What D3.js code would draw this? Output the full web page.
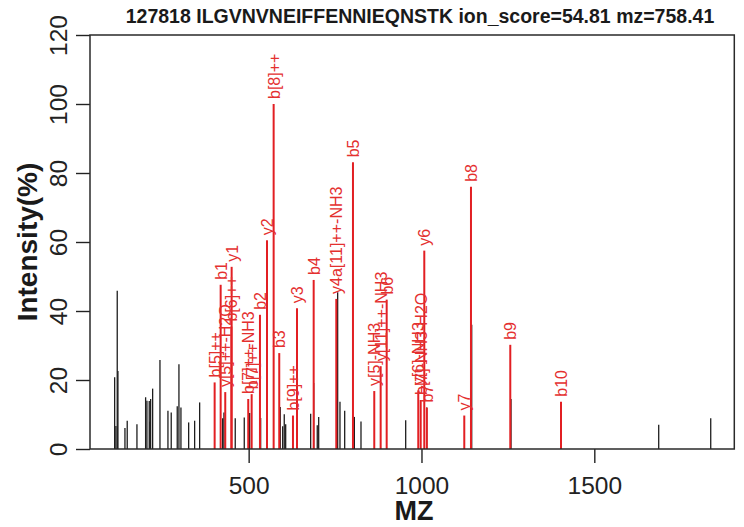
<!DOCTYPE html>
<html>
<head>
<meta charset="utf-8">
<script src="https://cdn.jsdelivr.net/npm/d3@7"></script>
<style>
  html, body { margin: 0; padding: 0; background: #ffffff; }
  svg { display: block; font-family: "Liberation Sans", Arial, Helvetica, sans-serif; }
</style>
</head>
<body>
<svg id="chart" width="744" height="527"></svg>
<script>
// ---------- data ----------
const titleText = "127818 ILGVNVNEIFFENNIEQNSTK ion_score=54.81 mz=758.41";
const xTicks = [500, 1000, 1500];
const yTicks = [0, 20, 40, 60, 80, 100, 120];

// unmatched peaks (black)
const blackMz = [112.3, 116.0, 119.8, 121.8, 142.1, 148.7, 176.8, 201.9, 205.7, 212.4, 214.4, 216.4, 222.2, 243.4,
  266.5, 276.0, 293.4, 298.3, 304.1, 326.4, 343.7, 358.2, 424.8, 428.5, 461.2, 487.3, 502.9, 534.7,
  591.4, 598.4, 603.0, 607.1, 679.4, 688.1, 698.5, 702.6, 757.5, 764.2, 777.8, 805.8, 825.0, 954.3,
  1015.0, 1145.3, 1259.0, 1686.3, 1836.8];
const blackInt = [20.8, 6.7, 45.9, 22.6, 6.1, 8.2, 7.2, 15.0, 14.0, 13.9, 7.9, 14.5, 17.5, 25.8,
  11.1, 10.6, 12.4, 24.6, 12.0, 7.7, 8.2, 13.5, 8.9, 10.6, 8.9, 9.1, 10.4, 9.0,
  12.2, 6.6, 10.1, 7.2, 10.2, 19.1, 6.9, 9.3, 45.4, 13.7, 11.1, 9.3, 8.0, 8.3,
  12.0, 36.0, 14.5, 7.0, 8.9];

// matched fragment peaks (red)
const redMz = [401.6, 419.0, 432.3, 450.0, 450.8, 498.8, 508.7, 532.7, 553.0, 572.3, 588.5, 628.2, 639.8,
  688.1, 753.5, 801.8, 863.4, 881.9, 899.3, 990.7, 997.7, 1008.1, 1015.5, 1123.8, 1143.2, 1256.9, 1403.6];
const redInt = [19.3, 47.6, 16.5, 35.5, 52.8, 14.5, 15.9, 38.9, 60.5, 100, 27.8, 9.7, 40.8,
  49.0, 43.5, 83.1, 16.8, 24.0, 43.3, 17.0, 14.2, 57.5, 12.0, 9.7, 76.0, 30.2, 13.7];
const redLabel = ["b[5]++", "b1", "y[5]++-H2O", "b[6]++", "y1", "b[7]++-NH3", "b[7]++", "b2", "y2", "b[8]++", "b3", "b[9]++", "y3",
  "b4", "y4a[11]++-NH3", "b5", "y[5]-NH3", "y[11]++-NH3", "b6", "y[6]-NH3", "b[7]-NH3-H2O", "y6", "b7", "y7", "b8", "b9", "b10"];

// ---------- layout ----------
const svg = d3.select("#chart");
const pL = 90, pR = 734.3, pT = 35, pB = 449;
const x = d3.scaleLinear().domain([41, 1905]).range([pL, pR]);
const y = d3.scaleLinear().domain([0, 120]).range([pB, pT]);

const black = blackMz.map((m, i) => ({ mz: m, v: blackInt[i] }));
const red = redMz.map((m, i) => ({ mz: m, v: redInt[i], label: redLabel[i] }));

// title
svg.append("text")
  .attr("x", 420).attr("y", 23)
  .attr("text-anchor", "middle")
  .attr("font-size", 19.5).attr("font-weight", "bold")
  .attr("fill", "#1a1a1a")
  .text(titleText);

// black peaks
svg.append("g").selectAll("line").data(black).join("line")
  .attr("x1", d => x(d.mz)).attr("x2", d => x(d.mz))
  .attr("y1", y(0)).attr("y2", d => y(d.v))
  .attr("stroke", "#1e1e1e").attr("stroke-width", 1.3);

// red peaks
svg.append("g").selectAll("line").data(red).join("line")
  .attr("x1", d => x(d.mz)).attr("x2", d => x(d.mz))
  .attr("y1", y(0)).attr("y2", d => y(d.v))
  .attr("stroke", "#e21f23").attr("stroke-width", 2);

// red labels
svg.append("g").selectAll("text").data(red).join("text")
  .attr("transform", d => `translate(${x(d.mz)},${y(d.v) - 5}) rotate(-90)`)
  .attr("dy", "0.38em")
  .attr("text-anchor", "start")
  .attr("font-size", 16)
  .attr("fill", "#e4302f")
  .text(d => d.label);

// x axis
const xAxis = svg.append("g")
  .attr("transform", `translate(0,${pB})`)
  .call(d3.axisBottom(x).tickValues(xTicks).tickSize(14).tickFormat(d3.format("d")));
xAxis.select(".domain").remove();
xAxis.selectAll("line").attr("stroke", "#222").attr("stroke-width", 1.4);
xAxis.selectAll("text")
  .attr("y", 45).attr("dy", 0)
  .attr("font-size", 24.5)
  .attr("font-family", "Liberation Sans, Arial, sans-serif")
  .attr("fill", "#222");

// y axis
const yAxis = svg.append("g")
  .attr("transform", `translate(${pL},0)`)
  .call(d3.axisLeft(y).tickValues(yTicks).tickSize(14));
yAxis.select(".domain").remove();
yAxis.selectAll("line").attr("stroke", "#222").attr("stroke-width", 1.4);
yAxis.selectAll("text")
  .attr("transform", "rotate(-90)")
  .attr("x", 0).attr("y", -23).attr("dy", 0)
  .attr("text-anchor", "middle")
  .attr("font-size", 24.5)
  .attr("font-family", "Liberation Sans, Arial, sans-serif")
  .attr("fill", "#222");

// box
svg.append("rect")
  .attr("x", pL).attr("y", pT)
  .attr("width", pR - pL).attr("height", pB - pT)
  .attr("fill", "none").attr("stroke", "#2a2a2a").attr("stroke-width", 1.5);

// axis titles
svg.append("text")
  .attr("x", 414).attr("y", 520)
  .attr("text-anchor", "middle")
  .attr("font-size", 27).attr("font-weight", "bold")
  .attr("fill", "#1a1a1a")
  .text("MZ");

svg.append("text")
  .attr("transform", `translate(37,${(pT + pB) / 2}) rotate(-90)`)
  .attr("text-anchor", "middle")
  .attr("font-size", 28).attr("font-weight", "bold")
  .attr("fill", "#1a1a1a")
  .text("Intensity(%)");
</script>
</body>
</html>
